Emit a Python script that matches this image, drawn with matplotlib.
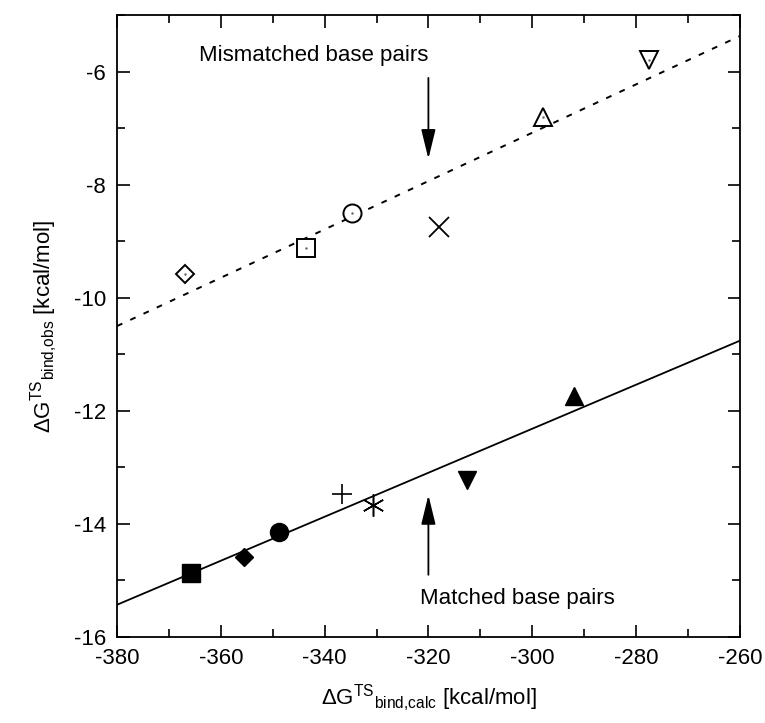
import numpy as np
import matplotlib
matplotlib.use("Agg")
import matplotlib.pyplot as plt
from matplotlib.ticker import MultipleLocator

plt.rcParams['font.family'] = ['Liberation Sans', 'DejaVu Sans']
plt.rcParams['mathtext.fontset'] = 'custom'
plt.rcParams['mathtext.rm'] = 'Liberation Sans'
plt.rcParams['mathtext.it'] = 'Liberation Sans'
plt.rcParams['axes.unicode_minus'] = False

# matched base pairs (filled symbols)
matched_x = [-365.8, -355.6, -348.8, -336.7, -330.6, -312.5, -291.9]
matched_y = [-14.87, -14.58, -14.14, -13.47, -13.66, -13.23, -11.73]
matched_mk = ['s', 'D', 'o', '+', (6, 2, 0), 'v', '^']

# mismatched base pairs (open symbols)
mism_x = [-367.0, -343.6, -334.8, -318.0, -298.0, -277.5]
mism_y = [-9.57, -9.11, -8.50, -8.74, -6.80, -5.80]
mism_mk = ['D', 's', 'o', 'x', '^', 'v']

# fitted lines (end points at x limits)
fit_x = [-380, -260]
matched_fit = [-15.43, -10.76]
mism_fit = [-10.50, -5.37]

fig = plt.figure(figsize=(7.65, 7.23), dpi=100)
ax = fig.add_axes([0.153, 0.119, 0.814, 0.86])

ax.plot(fit_x, matched_fit, color='black', lw=1.3)
ax.plot(fit_x, mism_fit, color='black', lw=1.4, dashes=(3, 4.5))

for x, y, m in zip(matched_x, matched_y, matched_mk):
    if m == '+':
        ax.plot(x, y, marker=m, ms=14, mew=1.2, color='black', ls='none')
    elif isinstance(m, tuple):
        ax.plot(x, y, marker=m, ms=16, mew=1.1, color='black', ls='none')
    elif m == 'D':
        ax.plot(x, y, marker=m, ms=9.5, color='black', ls='none')
    else:
        ax.plot(x, y, marker=m, ms=13, color='black', ls='none')

for x, y, m in zip(mism_x, mism_y, mism_mk):
    if m == 'x':
        ax.plot(x, y, marker=m, ms=14, mew=1.3, color='black', ls='none')
    elif m == 'D':
        ax.plot(x, y, marker=m, ms=9.5, mfc='white', mec='black', mew=1.4, ls='none')
    else:
        ax.plot(x, y, marker=m, ms=13, mfc='white', mec='black', mew=1.4, ls='none')
    if m != 'x':
        ax.plot(x, y, marker='.', ms=1.5, color='0.4', ls='none')

arrow = dict(arrowstyle='-|>,head_length=0.9,head_width=0.22', color='black',
             lw=1.3, mutation_scale=20, shrinkA=0, shrinkB=0)
ax.annotate('', xy=(-320, -7.54), xytext=(-320, -6.11), arrowprops=arrow)
ax.annotate('', xy=(-320, -13.49), xytext=(-320, -14.9), arrowprops=arrow)
ax.text(-342.2, -5.72, 'Mismatched base pairs', ha='center', va='center', fontsize=16)
ax.text(-321.6, -15.32, 'Matched base pairs', ha='left', va='center', fontsize=16)

ax.set_xlim(-380, -260)
ax.set_ylim(-16, -5)
ax.xaxis.set_major_locator(MultipleLocator(20))
ax.xaxis.set_minor_locator(MultipleLocator(10))
ax.yaxis.set_major_locator(MultipleLocator(2))
ax.yaxis.set_minor_locator(MultipleLocator(1))
ax.tick_params(which='both', direction='in', top=True, right=True, labelsize=16, width=1.2)
ax.tick_params(which='major', length=9, pad=8)
ax.tick_params(which='minor', length=6)
for s in ax.spines.values():
    s.set_linewidth(1.3)

ax.set_xlabel(r'$\Delta$G$^{\rm TS}$$_{\rm bind{,}calc}$ [kcal/mol]', fontsize=16, labelpad=10)
ax.set_ylabel(r'$\Delta$G$^{\rm TS}$$_{\rm bind{,}obs}$ [kcal/mol]', fontsize=16, labelpad=10)

fig.savefig('out.png', dpi=100)
